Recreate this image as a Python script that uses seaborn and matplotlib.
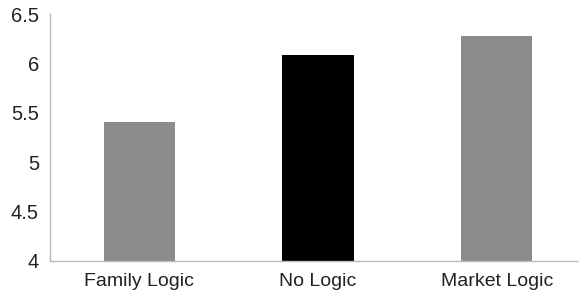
import matplotlib
matplotlib.use("Agg")
import matplotlib.pyplot as plt
import seaborn as sns
import pandas as pd

categories = ["Family Logic", "No Logic", "Market Logic"]
values = [5.41, 6.08, 6.28]
bar_colors = ["#8c8c8c", "#000000", "#8c8c8c"]
y_ticks = [4, 4.5, 5, 5.5, 6, 6.5]
y_tick_labels = ["4", "4.5", "5", "5.5", "6", "6.5"]

sns.set_style("white")
plt.rcParams["font.family"] = ["Liberation Sans", "DejaVu Sans"]

df = pd.DataFrame({"condition": categories, "mean": values})

fig = plt.figure(figsize=(5.79, 2.97), dpi=100)
ax = fig.add_axes([50 / 579, 36 / 297, 536 / 579, 247 / 297])

sns.barplot(data=df, x="condition", y="mean", hue="condition",
            palette=bar_colors, width=0.4, legend=False, ax=ax,
            edgecolor="none")

ax.set_ylim(4, 6.5)
ax.set_xlim(-0.5, 2.5)
ax.set_yticks(y_ticks)
ax.set_yticklabels(y_tick_labels)
ax.set_xlabel("")
ax.set_ylabel("")

# category separators on the x axis
ax.set_xticks([0.5, 1.5], minor=True)
ax.tick_params(axis="x", which="major", length=0, labelsize=14, pad=9, colors="#222222")
ax.tick_params(axis="x", which="minor", length=4, width=0.8, color="#bbbbbb", direction="out")
ax.tick_params(axis="y", length=4, width=0.8, color="#bbbbbb", direction="out",
               labelsize=14.5, labelcolor="#222222", pad=4)

sns.despine(ax=ax, top=True, right=True)
for side in ["left", "bottom"]:
    ax.spines[side].set_color("#bbbbbb")
    ax.spines[side].set_linewidth(1.0)

fig.savefig("out.png", dpi=100)
